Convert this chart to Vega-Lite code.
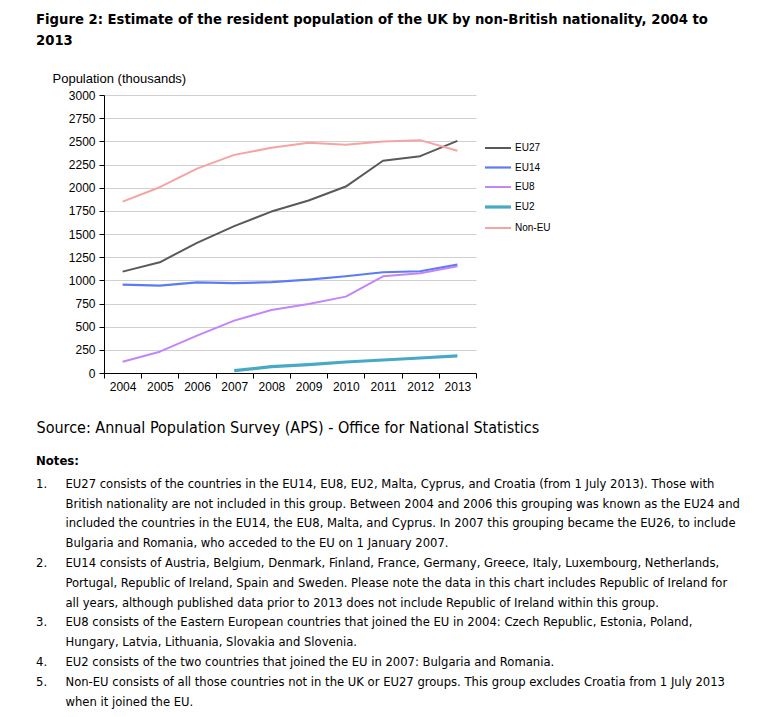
{
  "$schema": "https://vega.github.io/schema/vega-lite/v6.json",
  "padding": {"left": 36, "top": 12, "right": 0, "bottom": 0},
  "background": "white",
  "config": {
    "view": {"stroke": null},
    "font": "Liberation Sans",
    "concat": {"spacing": 19}
  },
  "vconcat": [
    {
      "width": 372,
      "height": 278,
      "title": {
        "text": ["Figure 2: Estimate of the resident population of the UK by non-British nationality, 2004 to", "2013"],
        "anchor": "start",
        "frame": "group",
        "dx": -68,
        "font": "Liberation Sans Narrow, DejaVu Sans Condensed, sans-serif",
        "fontSize": 14.7,
        "fontWeight": "bold",
        "lineHeight": 21,
        "color": "#000000",
        "offset": 24
      },
      "data": {
        "values": [
          {"year": 2004, "series": "EU27", "value": 1094},
          {"year": 2005, "series": "EU27", "value": 1195},
          {"year": 2006, "series": "EU27", "value": 1405},
          {"year": 2007, "series": "EU27", "value": 1585},
          {"year": 2008, "series": "EU27", "value": 1742},
          {"year": 2009, "series": "EU27", "value": 1861},
          {"year": 2010, "series": "EU27", "value": 2012},
          {"year": 2011, "series": "EU27", "value": 2290},
          {"year": 2012, "series": "EU27", "value": 2340},
          {"year": 2013, "series": "EU27", "value": 2505},
          {"year": 2004, "series": "EU14", "value": 954},
          {"year": 2005, "series": "EU14", "value": 943},
          {"year": 2006, "series": "EU14", "value": 978},
          {"year": 2007, "series": "EU14", "value": 969},
          {"year": 2008, "series": "EU14", "value": 980},
          {"year": 2009, "series": "EU14", "value": 1008},
          {"year": 2010, "series": "EU14", "value": 1044},
          {"year": 2011, "series": "EU14", "value": 1087},
          {"year": 2012, "series": "EU14", "value": 1098},
          {"year": 2013, "series": "EU14", "value": 1170},
          {"year": 2004, "series": "EU8", "value": 122},
          {"year": 2005, "series": "EU8", "value": 230},
          {"year": 2006, "series": "EU8", "value": 403},
          {"year": 2007, "series": "EU8", "value": 565},
          {"year": 2008, "series": "EU8", "value": 680},
          {"year": 2009, "series": "EU8", "value": 745},
          {"year": 2010, "series": "EU8", "value": 824},
          {"year": 2011, "series": "EU8", "value": 1044},
          {"year": 2012, "series": "EU8", "value": 1076},
          {"year": 2013, "series": "EU8", "value": 1152},
          {"year": 2007, "series": "EU2", "value": 25},
          {"year": 2008, "series": "EU2", "value": 68},
          {"year": 2009, "series": "EU2", "value": 90},
          {"year": 2010, "series": "EU2", "value": 119},
          {"year": 2011, "series": "EU2", "value": 140},
          {"year": 2012, "series": "EU2", "value": 162},
          {"year": 2013, "series": "EU2", "value": 184},
          {"year": 2004, "series": "Non-EU", "value": 1850},
          {"year": 2005, "series": "Non-EU", "value": 2005},
          {"year": 2006, "series": "Non-EU", "value": 2205},
          {"year": 2007, "series": "Non-EU", "value": 2354},
          {"year": 2008, "series": "Non-EU", "value": 2430},
          {"year": 2009, "series": "Non-EU", "value": 2484},
          {"year": 2010, "series": "Non-EU", "value": 2462},
          {"year": 2011, "series": "Non-EU", "value": 2498},
          {"year": 2012, "series": "Non-EU", "value": 2513},
          {"year": 2013, "series": "Non-EU", "value": 2398}
        ]
      },
      "mark": {"type": "line", "strokeCap": "butt", "strokeJoin": "round"},
      "encoding": {
        "x": {
          "field": "year",
          "type": "ordinal",
          "scale": {"type": "band", "paddingInner": 0, "paddingOuter": 0},
          "axis": {
            "title": "Source: Annual Population Survey (APS) - Office for National Statistics",
            "titleFont": "Liberation Sans Narrow, DejaVu Sans Condensed, sans-serif",
            "titleFontSize": 16,
            "titleFontWeight": "normal",
            "titleColor": "#000000",
            "titleAlign": "left",
            "titleAnchor": "start",
            "titleBaseline": "alphabetic",
            "titleX": -68,
            "titleY": 59,
            "labelAngle": 0,
            "labelFontSize": 12,
            "labelColor": "#000000",
            "labelPadding": 3,
            "tickBand": "extent",
            "tickSize": 5,
            "tickColor": "#000000",
            "domainColor": "#000000",
            "grid": false
          }
        },
        "y": {
          "field": "value",
          "type": "quantitative",
          "scale": {"domain": [0, 3000], "nice": false},
          "axis": {
            "values": [0, 250, 500, 750, 1000, 1250, 1500, 1750, 2000, 2250, 2500, 2750, 3000],
            "format": "d",
            "title": "Population (thousands)",
            "titleAngle": 0,
            "titleAlign": "left",
            "titleBaseline": "alphabetic",
            "titleX": -52,
            "titleY": -13,
            "titleFontSize": 13,
            "titleFontWeight": "normal",
            "titleColor": "#000000",
            "labelFontSize": 12,
            "labelColor": "#000000",
            "labelPadding": 4,
            "tickSize": 5,
            "tickColor": "#000000",
            "domainColor": "#000000",
            "gridColor": "#d0d0d0",
            "gridWidth": 1.2
          }
        },
        "color": {
          "field": "series",
          "type": "nominal",
          "scale": {
            "domain": ["EU27", "EU14", "EU8", "EU2", "Non-EU"],
            "range": ["#595959", "#5b7cf2", "#c385f7", "#48a9c5", "#f6a3a3"]
          },
          "legend": {
            "title": null,
            "orient": "none",
            "legendX": 379,
            "legendY": 39,
            "symbolType": "stroke",
            "symbolSize": 676,
            "labelFontSize": 10,
            "labelColor": "#000000",
            "labelOffset": 2,
            "rowPadding": -4.2
          }
        },
        "strokeWidth": {
          "field": "series",
          "type": "nominal",
          "scale": {
            "type": "ordinal",
            "domain": ["EU27", "EU14", "EU8", "EU2", "Non-EU"],
            "range": [2, 2.2, 2, 3.2, 2]
          }
        }
      }
    },
    {
      "width": 700,
      "height": 1,
      "title": {
        "text": "Notes:",
        "subtitle": [
          "1.\u00a0\u00a0\u00a0\u00a0\u00a0EU27 consists of the countries in the EU14, EU8, EU2, Malta, Cyprus, and Croatia (from 1 July 2013). Those with",
          "\u200b\u00a0\u00a0\u00a0\u00a0\u00a0\u00a0\u00a0\u00a0British nationality are not included in this group. Between 2004 and 2006 this grouping was known as the EU24 and",
          "\u200b\u00a0\u00a0\u00a0\u00a0\u00a0\u00a0\u00a0\u00a0included the countries in the EU14, the EU8, Malta, and Cyprus. In 2007 this grouping became the EU26, to include",
          "\u200b\u00a0\u00a0\u00a0\u00a0\u00a0\u00a0\u00a0\u00a0Bulgaria and Romania, who acceded to the EU on 1 January 2007.",
          "2.\u00a0\u00a0\u00a0\u00a0\u00a0EU14 consists of Austria, Belgium, Denmark, Finland, France, Germany, Greece, Italy, Luxembourg, Netherlands,",
          "\u200b\u00a0\u00a0\u00a0\u00a0\u00a0\u00a0\u00a0\u00a0Portugal, Republic of Ireland, Spain and Sweden. Please note the data in this chart includes Republic of Ireland for",
          "\u200b\u00a0\u00a0\u00a0\u00a0\u00a0\u00a0\u00a0\u00a0all years, although published data prior to 2013 does not include Republic of Ireland within this group.",
          "3.\u00a0\u00a0\u00a0\u00a0\u00a0EU8 consists of the Eastern European countries that joined the EU in 2004: Czech Republic, Estonia, Poland,",
          "\u200b\u00a0\u00a0\u00a0\u00a0\u00a0\u00a0\u00a0\u00a0Hungary, Latvia, Lithuania, Slovakia and Slovenia.",
          "4.\u00a0\u00a0\u00a0\u00a0\u00a0EU2 consists of the two countries that joined the EU in 2007: Bulgaria and Romania.",
          "5.\u00a0\u00a0\u00a0\u00a0\u00a0Non-EU consists of all those countries not in the UK or EU27 groups. This group excludes Croatia from 1 July 2013",
          "\u200b\u00a0\u00a0\u00a0\u00a0\u00a0\u00a0\u00a0\u00a0when it joined the EU."
        ],
        "anchor": "start",
        "frame": "group",
        "dx": -68,
        "font": "Liberation Sans Narrow, DejaVu Sans Condensed, sans-serif",
        "fontSize": 13,
        "fontWeight": "bold",
        "color": "#000000",
        "subtitleFont": "Liberation Sans Narrow, DejaVu Sans Condensed, sans-serif",
        "subtitleFontSize": 12.9,
        "subtitleColor": "#000000",
        "subtitleLineHeight": 19.8,
        "subtitlePadding": 10,
        "offset": 0
      },
      "data": {"values": [{"note": ""}]},
      "mark": {"type": "text"},
      "encoding": {"text": {"field": "note", "type": "nominal"}}
    }
  ]
}
